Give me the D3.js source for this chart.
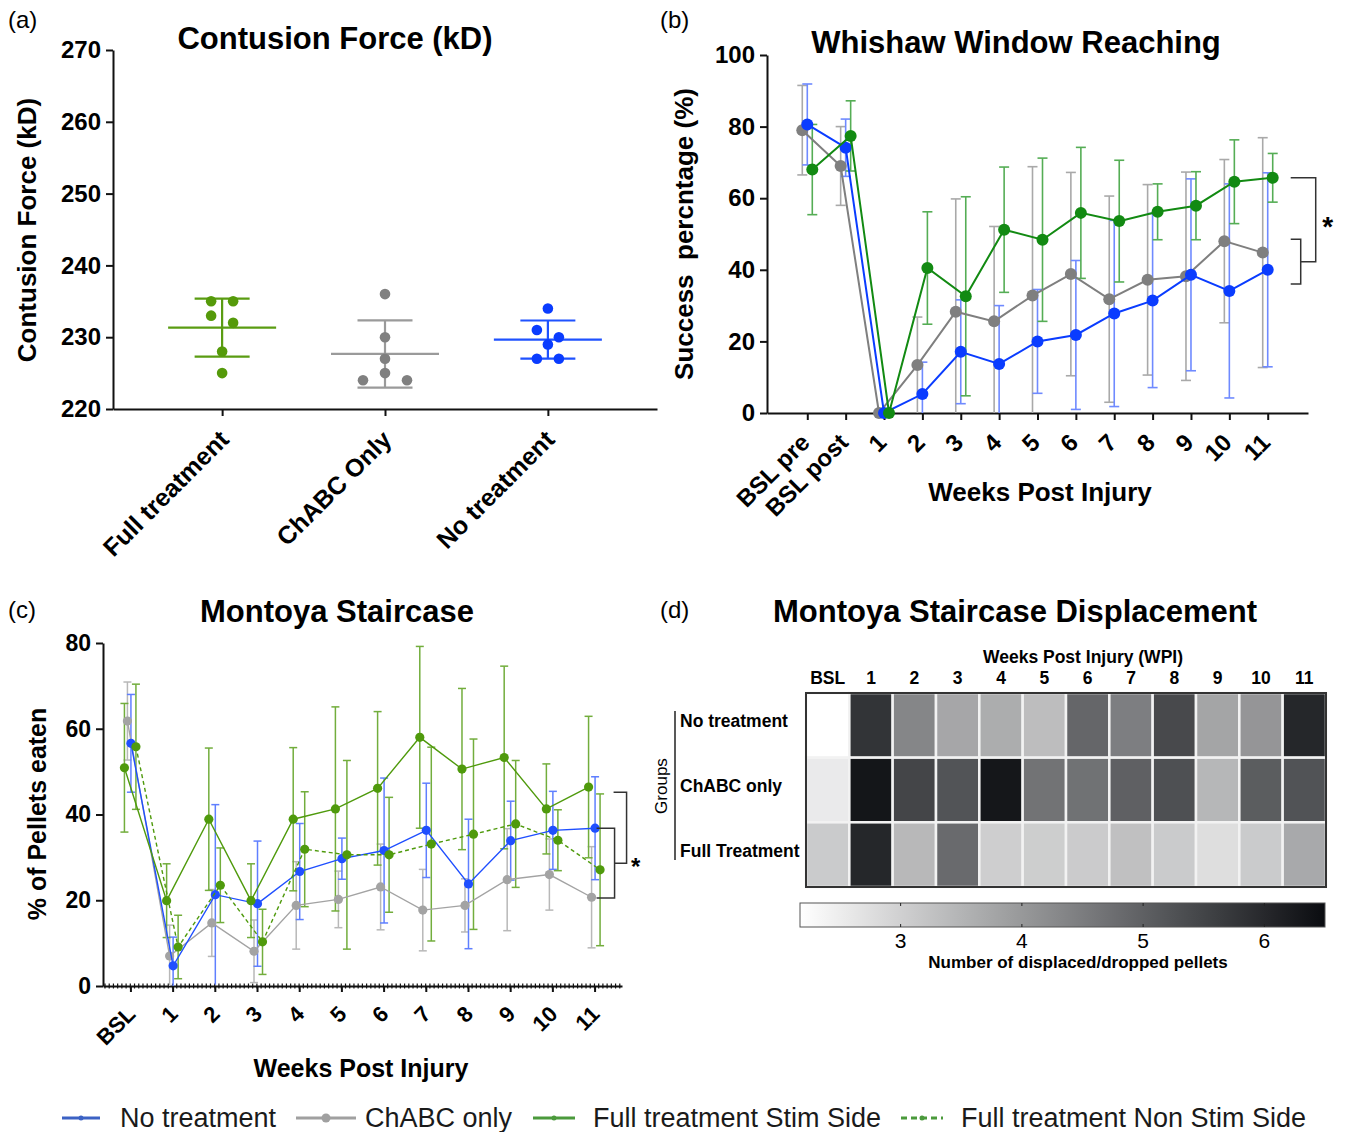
<!DOCTYPE html>
<html>
<head>
<meta charset="utf-8">
<script src="https://cdn.jsdelivr.net/npm/d3@7"></script>
<style>
body { margin: 0; background: #fff; }
svg text { font-family: "Liberation Sans", Arial, sans-serif; }
</style>
</head>
<body>
<svg id="fig" width="1345" height="1132"></svg>
<script>
// (a) contusion force, one value per animal
const forceGroups = ["Full treatment", "ChABC Only", "No treatment"];
const forceFull = [235, 235, 233, 232, 228, 225];
const forceChabc = [236, 230, 227, 225, 224, 224];
const forceNone = [234, 231, 230, 229, 227, 227];

// (b) Whishaw window reaching, mean and SD
const reachWeeks = ["BSL pre", "BSL post", "1", "2", "3", "4", "5", "6", "7", "8", "9", "10", "11"];
const reachNone = [80.6, 74.1, 0, 5.3, 17.1, 13.7, 20.0, 21.8, 27.8, 31.4, 38.6, 34.1, 40.0];
const reachNoneSd = [11.3, 8.0, 0, 8.9, 14.5, 16.3, 14.5, 20.8, 26.0, 24.3, 26.8, 29.9, 27.1];
const reachChabc = [79.0, 69.0, 0, 13.4, 28.3, 25.6, 32.8, 38.8, 31.8, 37.2, 38.2, 48.0, 44.8];
const reachChabcSd = [12.5, 11.0, 0, 13.4, 31.5, 26.5, 36.0, 28.4, 28.8, 26.6, 29.1, 22.8, 32.1];
const reachFull = [68.0, 77.4, 0, 40.5, 32.6, 51.2, 48.4, 55.9, 53.6, 56.2, 57.9, 64.6, 65.7];
const reachFullSd = [12.6, 9.8, 0, 15.7, 27.8, 17.5, 22.8, 18.3, 17.0, 7.8, 9.5, 11.7, 6.8];
const reachSigInner = [36, 48.5];

// (c) Montoya staircase, mean and SD
const stairWeeks = ["BSL", "1", "2", "3", "4", "5", "6", "7", "8", "9", "10", "11"];
const stairNone = [56.6, 4.7, 21.3, 19.2, 26.7, 29.7, 31.6, 36.3, 23.8, 33.9, 36.3, 36.8];
const stairNoneSd = [11.4, 6.7, 21.0, 14.6, 11.2, 4.8, 16.9, 11.0, 15.1, 9.2, 9.1, 12.0];
const stairChabc = [61.8, 7.0, 14.7, 8.1, 18.8, 20.2, 23.1, 17.7, 18.8, 24.8, 26.0, 20.7];
const stairChabcSd = [9.1, 7.2, 7.8, 7.3, 10.2, 6.6, 10.0, 9.5, 6.2, 11.9, 8.3, 11.8];
const stairStim = [50.9, 19.9, 38.9, 19.9, 38.9, 41.3, 46.1, 58.0, 50.6, 53.3, 41.3, 46.4];
const stairStimSd = [15.0, 8.6, 16.6, 8.6, 16.7, 23.8, 17.9, 21.2, 18.8, 21.3, 10.5, 16.5];
const stairNonStim = [55.8, 9.1, 23.5, 10.3, 31.9, 30.6, 30.6, 33.1, 35.4, 37.8, 34.0, 27.1];
const stairNonStimSd = [14.6, 7.4, 8.7, 7.6, 13.4, 22.0, 13.4, 22.6, 22.2, 14.8, 7.1, 17.7];
const stairSigInner = [20.5, 36.8];
const stairSigOuterTop = 45.2;

// (d) displaced pellets heatmap
const dispWeeks = ["BSL", "1", "2", "3", "4", "5", "6", "7", "8", "9", "10", "11"];
const dispGroups = ["No treatment", "ChABC only", "Full Treatment"];
const dispNone = [2.17, 5.79, 4.33, 3.75, 3.63, 3.34, 4.89, 4.46, 5.41, 3.78, 4.05, 6.02];
const dispChabc = [2.54, 6.33, 5.48, 5.22, 6.31, 4.67, 4.69, 5.00, 5.29, 3.46, 5.06, 5.24];
const dispFull = [3.10, 6.02, 3.43, 4.82, 3.04, 3.05, 3.09, 3.29, 3.10, 2.76, 3.10, 3.70];
const dispRange = [2.17, 6.5];
const dispTicks = [3, 4, 5, 6];

const legendNames = ["No treatment", "ChABC only", "Full treatment Stim Side", "Full treatment Non Stim Side"];

const FONT = '"Liberation Sans", Arial, sans-serif';
const svg = d3.select('#fig');

function txt(g, x, y, s, size, opts = {}) {
    const t = g.append('text')
        .attr('x', x).attr('y', y)
        .attr('font-size', size)
        .attr('font-weight', opts.weight || 'bold')
        .attr('text-anchor', opts.anchor || 'middle')
        .attr('fill', opts.fill || '#000')
        .text(s);
    if (opts.rotate) t.attr('transform', 'rotate(' + opts.rotate + ',' + x + ',' + y + ')');
    if (opts.dy) t.attr('dy', opts.dy);
    if (opts.pre) t.style('white-space', 'pre');
    return t;
}

function styleAxis(g, size) {
    g.attr('font-family', FONT);
    g.select('.domain').attr('stroke', '#111').attr('stroke-width', 2);
    g.selectAll('.tick line').attr('stroke', '#111').attr('stroke-width', 2);
    g.selectAll('.tick text').attr('font-size', size).attr('font-weight', 'bold').attr('fill', '#000');
}

// spread equal-ish values sideways like a scatter dot plot
function swarm(vals, y, diam, s) {
    const sorted = vals.slice().sort((a, b) => b - a);
    const rows = [];
    sorted.forEach(v => {
        const last = rows[rows.length - 1];
        if (last && Math.abs(y(last[0]) - y(v)) < diam) last.push(v);
        else rows.push([v]);
    });
    const out = [];
    rows.forEach(r => {
        const offs = r.length === 1 ? [0] : r.length === 2 ? [-s, s] : [0, -2 * s, 2 * s, -3 * s, 3 * s];
        r.forEach((v, i) => out.push({ v: v, dx: offs[i] }));
    });
    return out;
}

function errorBars(g, xs, ys, means, sds, dx, color, cap, width) {
    means.forEach((m, i) => {
        const sd = sds[i];
        if (!sd) return;
        const x = xs(i) + dx;
        const lo = Math.max(0, m - sd), hi = m + sd;
        g.append('line').attr('x1', x).attr('x2', x).attr('y1', ys(lo)).attr('y2', ys(hi))
            .attr('stroke', color).attr('stroke-width', width);
        g.append('line').attr('x1', x - cap).attr('x2', x + cap).attr('y1', ys(hi)).attr('y2', ys(hi))
            .attr('stroke', color).attr('stroke-width', width);
        if (m - sd > 0.5) {
            g.append('line').attr('x1', x - cap).attr('x2', x + cap).attr('y1', ys(lo)).attr('y2', ys(lo))
                .attr('stroke', color).attr('stroke-width', width);
        }
    });
}

// ---------------- (a) ----------------
const ga = svg.append('g');
const ya = d3.scaleLinear().domain([220, 270]).range([409, 50]);
const xa = d3.scalePoint().domain(forceGroups).range([113, 657]).padding(0.67);

ga.append('g').attr('transform', 'translate(113,0)')
    .call(d3.axisLeft(ya).tickValues(d3.range(220, 271, 10)).tickSize(7).tickSizeOuter(0).tickPadding(5))
    .call(styleAxis, 24);
ga.append('g').attr('transform', 'translate(0,409)')
    .call(d3.axisBottom(xa).tickSize(7).tickSizeOuter(0).tickFormat(''))
    .call(styleAxis, 24);

forceGroups.forEach(name => {
    txt(ga, xa(name) + 2, 409 + 26, name, 25, { anchor: 'end', rotate: -45, dy: '0.35em' });
});

const forceSeries = [
    { vals: forceFull, color: '#559a0a', line: '#5a9c12' },
    { vals: forceChabc, color: '#808080', line: '#9a9a9a' },
    { vals: forceNone, color: '#0a3cff', line: '#1f52ff' }
];
forceSeries.forEach((s, i) => {
    const cx = xa(forceGroups[i]);
    const mean = d3.mean(s.vals), sd = d3.deviation(s.vals);
    ga.append('line').attr('x1', cx).attr('x2', cx).attr('y1', ya(mean - sd)).attr('y2', ya(mean + sd))
        .attr('stroke', s.line).attr('stroke-width', 2.2);
    [mean - sd, mean + sd].forEach(v => {
        ga.append('line').attr('x1', cx - 27.5).attr('x2', cx + 27.5).attr('y1', ya(v)).attr('y2', ya(v))
            .attr('stroke', s.line).attr('stroke-width', 2.2);
    });
    ga.append('line').attr('x1', cx - 54).attr('x2', cx + 54).attr('y1', ya(mean)).attr('y2', ya(mean))
        .attr('stroke', s.line).attr('stroke-width', 2.2);
    ga.selectAll(null).data(swarm(s.vals, ya, 11, 11)).join('circle')
        .attr('cx', d => cx + d.dx).attr('cy', d => ya(d.v)).attr('r', 5.3).attr('fill', s.color);
});

txt(ga, 335, 49, 'Contusion Force (kD)', 31);
txt(ga, 36, 230, 'Contusion Force (kD)', 26, { rotate: -90 });
txt(ga, 8, 28, '(a)', 24, { anchor: 'start', weight: 'normal' });

// ---------------- (b) ----------------
const gb = svg.append('g');
const yb = d3.scaleLinear().domain([0, 100]).range([413, 55]);
const xb = d3.scalePoint().domain(reachWeeks).range([767, 1308]).padding(1.05);
const xbi = i => xb(reachWeeks[i]);

gb.append('g').attr('transform', 'translate(767,0)')
    .call(d3.axisLeft(yb).tickValues(d3.range(0, 101, 20)).tickSize(7).tickSizeOuter(0).tickPadding(5))
    .call(styleAxis, 24);
gb.append('g').attr('transform', 'translate(0,413)')
    .call(d3.axisBottom(xb).tickSize(7).tickSizeOuter(0).tickFormat(''))
    .call(styleAxis, 24);
reachWeeks.forEach(w => {
    txt(gb, xb(w) - 2, 413 + 25, w, 24, { anchor: 'end', rotate: -45, dy: '0.35em' });
});

const reachSeries = [
    { m: reachChabc, sd: reachChabcSd, dx: -5, color: '#7f7f7f', err: '#a9a9a9' },
    { m: reachNone, sd: reachNoneSd, dx: 0, color: '#0a3cff', err: '#6f8aff' },
    { m: reachFull, sd: reachFullSd, dx: 5, color: '#128a12', err: '#55ad55' }
];
reachSeries.forEach(s => errorBars(gb, xbi, yb, s.m, s.sd, s.dx, s.err, 5, 1.6));
reachSeries.forEach(s => {
    gb.append('path').datum(s.m)
        .attr('d', d3.line().x((d, i) => xbi(i) + s.dx).y(d => yb(d)))
        .attr('fill', 'none').attr('stroke', s.color).attr('stroke-width', 2);
    gb.selectAll(null).data(s.m).join('circle')
        .attr('cx', (d, i) => xbi(i) + s.dx).attr('cy', d => yb(d)).attr('r', 6).attr('fill', s.color);
});

// significance brackets
{
    const lastX = xbi(reachWeeks.length - 1);
    const yi0 = yb(reachSigInner[0]), yi1 = yb(reachSigInner[1]);
    const yo = yb(reachFull[reachFull.length - 1]);
    const ym = (yi0 + yi1) / 2;
    gb.append('path')
        .attr('d', `M${lastX + 23},${yi1}H${lastX + 33}V${yi0}H${lastX + 23}M${lastX + 33},${ym}H${lastX + 48}V${yo}H${lastX + 23}`)
        .attr('fill', 'none').attr('stroke', '#333').attr('stroke-width', 1.5);
    txt(gb, lastX + 60, (yo + ym) / 2 + 16, '*', 28);
}

txt(gb, 1016, 53, 'Whishaw Window Reaching', 31);
txt(gb, 693, 234, 'Success  percntage (%)', 26, { rotate: -90, pre: true });
txt(gb, 1040, 501, 'Weeks Post Injury', 26);
txt(gb, 660, 28, '(b)', 24, { anchor: 'start', weight: 'normal' });

// ---------------- (c) ----------------
const gc = svg.append('g');
const yc = d3.scaleLinear().domain([0, 80]).range([986, 643]);
const xc = d3.scalePoint().domain(stairWeeks).range([103, 622]).padding(0.65);
const xci = i => xc(stairWeeks[i]);

gc.append('g').attr('transform', 'translate(103,0)')
    .call(d3.axisLeft(yc).tickValues(d3.range(0, 81, 20)).tickSize(7).tickSizeOuter(0).tickPadding(5))
    .call(styleAxis, 23);
const gxc = gc.append('g').attr('transform', 'translate(0,986)')
    .call(d3.axisBottom(xc).tickSize(6).tickSizeOuter(0).tickFormat(''))
    .call(styleAxis, 23);
gxc.selectAll('.minor').data(d3.range(103 + 2, 622, xc.step() / 10)).join('line')
    .attr('class', 'minor')
    .attr('x1', d => d).attr('x2', d => d).attr('y1', -2.5).attr('y2', 2.5)
    .attr('stroke', '#111').attr('stroke-width', 1.2);
stairWeeks.forEach(w => {
    txt(gc, xc(w) + 1, 986 + 24, w, 22, { anchor: 'end', rotate: -45, dy: '0.35em' });
});

const stairSeries = [
    { m: stairChabc, sd: stairChabcSd, dx: -3, color: '#a3a3a3', err: '#b8b8b8', dash: null },
    { m: stairNone, sd: stairNoneSd, dx: 0.5, color: '#1f4fff', err: '#5f7fff', dash: null },
    { m: stairNonStim, sd: stairNonStimSd, dx: 5.5, color: '#4f9a0c', err: '#72ad3c', dash: '4,3' },
    { m: stairStim, sd: stairStimSd, dx: -6, color: '#4f9a0c', err: '#72ad3c', dash: null }
];
stairSeries.forEach(s => errorBars(gc, xci, yc, s.m, s.sd, s.dx, s.err, 4, 1.5));
stairSeries.forEach(s => {
    gc.append('path').datum(s.m)
        .attr('d', d3.line().x((d, i) => xci(i) + s.dx).y(d => yc(d)))
        .attr('fill', 'none').attr('stroke', s.color).attr('stroke-width', 1.4)
        .attr('stroke-dasharray', s.dash);
    gc.selectAll(null).data(s.m).join('circle')
        .attr('cx', (d, i) => xci(i) + s.dx).attr('cy', d => yc(d)).attr('r', 4.6).attr('fill', s.color);
});
{
    const lastX = xci(stairWeeks.length - 1);
    const yi0 = yc(stairSigInner[0]), yi1 = yc(stairSigInner[1]);
    const yo = yc(stairSigOuterTop);
    const ym = (yi0 + yi1) / 2;
    gc.append('path')
        .attr('d', `M${lastX + 2},${yi1}H${lastX + 20}V${yi0}H${lastX + 2}M${lastX + 20},${ym}H${lastX + 32}V${yo}H${lastX + 19}`)
        .attr('fill', 'none').attr('stroke', '#333').attr('stroke-width', 1.5);
    txt(gc, lastX + 41, ym + 12, '*', 24);
}

txt(gc, 337, 622, 'Montoya Staircase', 31);
txt(gc, 46, 814, '% of Pellets eaten', 25, { rotate: -90 });
txt(gc, 361, 1077, 'Weeks Post Injury', 25);
txt(gc, 8, 618, '(c)', 24, { anchor: 'start', weight: 'normal' });

// ---------------- (d) ----------------
const gd = svg.append('g');
const xd = d3.scaleBand().domain(dispWeeks).range([806, 1326]);
const yd = d3.scaleBand().domain(dispGroups).range([693, 887]);
const cd = d3.scaleLinear().domain(dispRange).range(['#ffffff', '#0a0c10']);
const dispRows = [dispNone, dispChabc, dispFull];

dispRows.forEach((row, r) => {
    gd.selectAll(null).data(row).join('rect')
        .attr('x', (d, i) => xd(dispWeeks[i])).attr('y', yd(dispGroups[r]))
        .attr('width', xd.bandwidth()).attr('height', yd.bandwidth())
        .attr('fill', d => cd(d)).attr('stroke', '#f2f2f2').attr('stroke-width', 2.5);
});
gd.append('rect').attr('x', 806).attr('y', 693).attr('width', 520).attr('height', 194)
    .attr('fill', 'none').attr('stroke', '#333').attr('stroke-width', 2);

dispWeeks.forEach(w => txt(gd, xd(w) + xd.bandwidth() / 2, 684, w, 17.5));
txt(gd, 1083, 663, 'Weeks Post Injury (WPI)', 17.5);
dispGroups.forEach(gname => txt(gd, 680, yd(gname) + yd.bandwidth() / 2 + 2, gname, 17.5, { anchor: 'start' }));
gd.append('line').attr('x1', 675).attr('x2', 675).attr('y1', 711).attr('y2', 860)
    .attr('stroke', '#222').attr('stroke-width', 1.5);
txt(gd, 667, 786, 'Groups', 17, { rotate: -90, weight: 'normal' });

// colour bar
const xcb = d3.scaleLinear().domain(dispRange).range([800, 1325]);
const grad = svg.append('defs').append('linearGradient').attr('id', 'cbar');
d3.range(0, 1.001, 0.1).forEach(t => {
    grad.append('stop').attr('offset', t).attr('stop-color', cd(dispRange[0] + t * (dispRange[1] - dispRange[0])));
});
gd.append('rect').attr('x', 800).attr('y', 903).attr('width', 525).attr('height', 24)
    .attr('fill', 'url(#cbar)').attr('stroke', '#555').attr('stroke-width', 1);
dispTicks.forEach(t => {
    gd.append('line').attr('x1', xcb(t)).attr('x2', xcb(t)).attr('y1', 903).attr('y2', 906).attr('stroke', '#222');
    gd.append('line').attr('x1', xcb(t)).attr('x2', xcb(t)).attr('y1', 924).attr('y2', 927).attr('stroke', '#222');
    txt(gd, xcb(t), 948, String(t), 21, { weight: 'normal' });
});
txt(gd, 1078, 968, 'Number of displaced/dropped pellets', 17);

txt(gd, 1015, 622, 'Montoya Staircase Displacement', 31);
txt(gd, 660, 618, '(d)', 24, { anchor: 'start', weight: 'normal' });

// ---------------- legend ----------------
const gl = svg.append('g');
const legendStyle = [
    { x0: 62, x1: 100, tx: 120, color: '#3c62c4', r: 2.5, dash: null },
    { x0: 296, x1: 356, tx: 365, color: '#a0a0a0', r: 4.5, dash: null },
    { x0: 533, x1: 575, tx: 593, color: '#4b9a3c', r: 2.5, dash: null },
    { x0: 901, x1: 943, tx: 961, color: '#4b9a3c', r: 2.5, dash: '6,4' }
];
legendNames.forEach((name, i) => {
    const st = legendStyle[i];
    gl.append('line').attr('x1', st.x0).attr('x2', st.x1).attr('y1', 1118).attr('y2', 1118)
        .attr('stroke', st.color).attr('stroke-width', 3).attr('stroke-dasharray', st.dash);
    gl.append('circle').attr('cx', (st.x0 + st.x1) / 2).attr('cy', 1118).attr('r', st.r).attr('fill', st.color);
    txt(gl, st.tx, 1127, name, 27, { anchor: 'start', weight: 'normal', fill: '#1a1a1a' });
});
</script>
</body>
</html>
